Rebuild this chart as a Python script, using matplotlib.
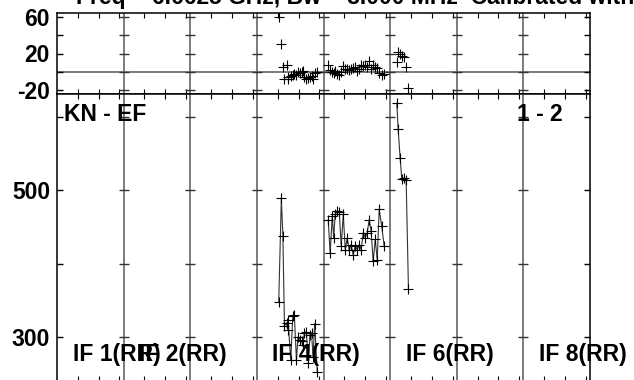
import numpy as np
import matplotlib
matplotlib.use("Agg")
from matplotlib import pyplot as plt
from matplotlib import transforms

plt.rcParams['font.family'] = ['Liberation Sans', 'DejaVu Sans']
plt.rcParams['font.weight'] = 'bold'

# data: channel (within IF), amplitude, phase
nchan = 64
n_if = 8
if_labels = ["IF 1(RR)", "IF 2(RR)", "IF 4(RR)", "IF 6(RR)", "IF 8(RR)"]
if_label_pos = [1, 2, 4, 6, 8]

if4_ch = [21, 23.5, 25, 26.5, 28.5, 29.5, 30, 32.5, 34.5, 36, 38, 39.5, 41.5, 43,
          44, 45.5, 47.5, 49.5, 51, 52.5, 54, 55.5, 58]
if4_amp = [348, 489, 437, 315, 319, 310, 323, 268, 328, 330, 268, 300, 296, 294,
           289, 305, 307, 264, 303, 305, 273, 318, 252]
if4_pha = [60, 30, 5, -8, 7, -8, -6, -4, -3, -2, -3, 0, -1, 0,
           1, -6, -8, -7, -5, -4, -8, -1, 0]

if5_ch = [4.5, 6.4, 8.4, 9.8, 11.2, 13.2, 15.1, 17, 19, 20.9, 22.8, 24.7, 26.6, 28.5,
          30.5, 32.4, 34.3, 36.2, 38.2, 40.1, 42, 43.9, 45.8, 47.7, 49.7, 51.6, 53.5,
          55.9, 58.3]
if5_amp = [460, 414, 465, 435, 467, 472, 471, 424, 467, 419, 435, 418, 426, 412,
           424, 419, 426, 419, 442, 435, 442, 460, 444, 403, 433, 405, 474, 451, 424]
if5_pha = [8, 2, 0, -1, 1, -2, -3, 0, 6, 3, 3, 2, 3, 4,
           5, 1, 3, 7, 6, 8, 5, 12, 3, 8, 5, 4, -1, -3, -2]

if6_ch = [6.4, 7.7, 9.6, 11.2, 13.4, 15.4, 17.6]
if6_amp = [619, 584, 544, 516, 517, 514, 365]
if6_pha = [11, 22, 20, 17, 16, 5, -18]

series = [(4, if4_ch, if4_amp, if4_pha),
          (5, if5_ch, if5_amp, if5_pha),
          (6, if6_ch, if6_amp, if6_pha)]

pha_ticks = [-20, 0, 20, 40, 60]
pha_labels = ['-20', '', '20', '', '60']
amp_ticks = [300, 400, 500, 600]
amp_labels = ['300', '', '500', '']

title = "Freq = 6.6625 GHz, Bw = 8.000 MHz  Calibrated with CL # 1"

fig = plt.figure(figsize=(6.34, 3.8), dpi=100)
W, H = 634.0, 380.0
left, right = 57 / W, 590 / W
ax1 = fig.add_axes([left, (H - 94) / H, right - left, 81 / H])
ax2 = fig.add_axes([left, (H - 381) / H, right - left, 287 / H])

bounds = [nchan * k for k in range(1, n_if)]
xt = [nchan * k + c for k in range(n_if) for c in (20, 40, 60)]

for ax, yt, yl, lim in [(ax1, pha_ticks, pha_labels, (-24, 64)),
                        (ax2, amp_ticks, amp_labels, (239.7, 631.5))]:
    ax.set_xlim(0, nchan * n_if)
    ax.set_ylim(*lim)
    for b in bounds:
        ax.axvline(b, color='#666666', lw=1.2, zorder=1)
    for t in yt:
        ax.plot(bounds, [t] * len(bounds), ls='none', marker='_', ms=7.5,
                mew=1.0, color='#333333', zorder=2)
    ax.set_xticks(xt)
    ax.set_xticklabels([])
    ax.set_yticks(yt)
    ax.set_yticklabels(yl)
    ax.tick_params(axis='x', direction='in', top=True, bottom=True, length=3.5, width=0.8)
    ax.tick_params(axis='y', direction='in', left=True, right=True, length=4, width=1,
                   labelsize=16.5, pad=5)
    for s in ax.spines.values():
        s.set_linewidth(1.1)

ax1.axhline(0, color='#666666', lw=1.2, zorder=1)

for k, ch, amp, pha in series:
    x = np.array(ch) + nchan * (k - 1)
    ax1.plot(x, pha, ls='none', marker='+', ms=6.5, mew=0.8, color='k', zorder=3)
    ax2.plot(x, amp, '-', color='#333333', lw=0.8, marker='+', ms=6.5, mew=0.8,
             mec='k', zorder=3)

tr = transforms.blended_transform_factory(ax2.transData, ax2.transAxes)
for lab, k in zip(if_labels, if_label_pos):
    ax2.text(nchan * (k - 1) + 15, 0.07, lab, transform=tr, fontsize=16.5,
             fontweight='bold', ha='left', va='baseline', zorder=5)

ax2.text(6.5 / 533, 0.905, "KN - EF", transform=ax2.transAxes, fontsize=16.5,
         fontweight='bold', ha='left', va='baseline', zorder=5)
ax2.text((516.7 - 57) / 533, 0.905, "1 - 2", transform=ax2.transAxes, fontsize=16.5,
         fontweight='bold', ha='left', va='baseline', zorder=5)

fig.text(76 / W, (H - 4) / H, title, fontsize=16.5, fontweight='bold',
         ha='left', va='baseline')

fig.savefig("out.png", dpi=100)
